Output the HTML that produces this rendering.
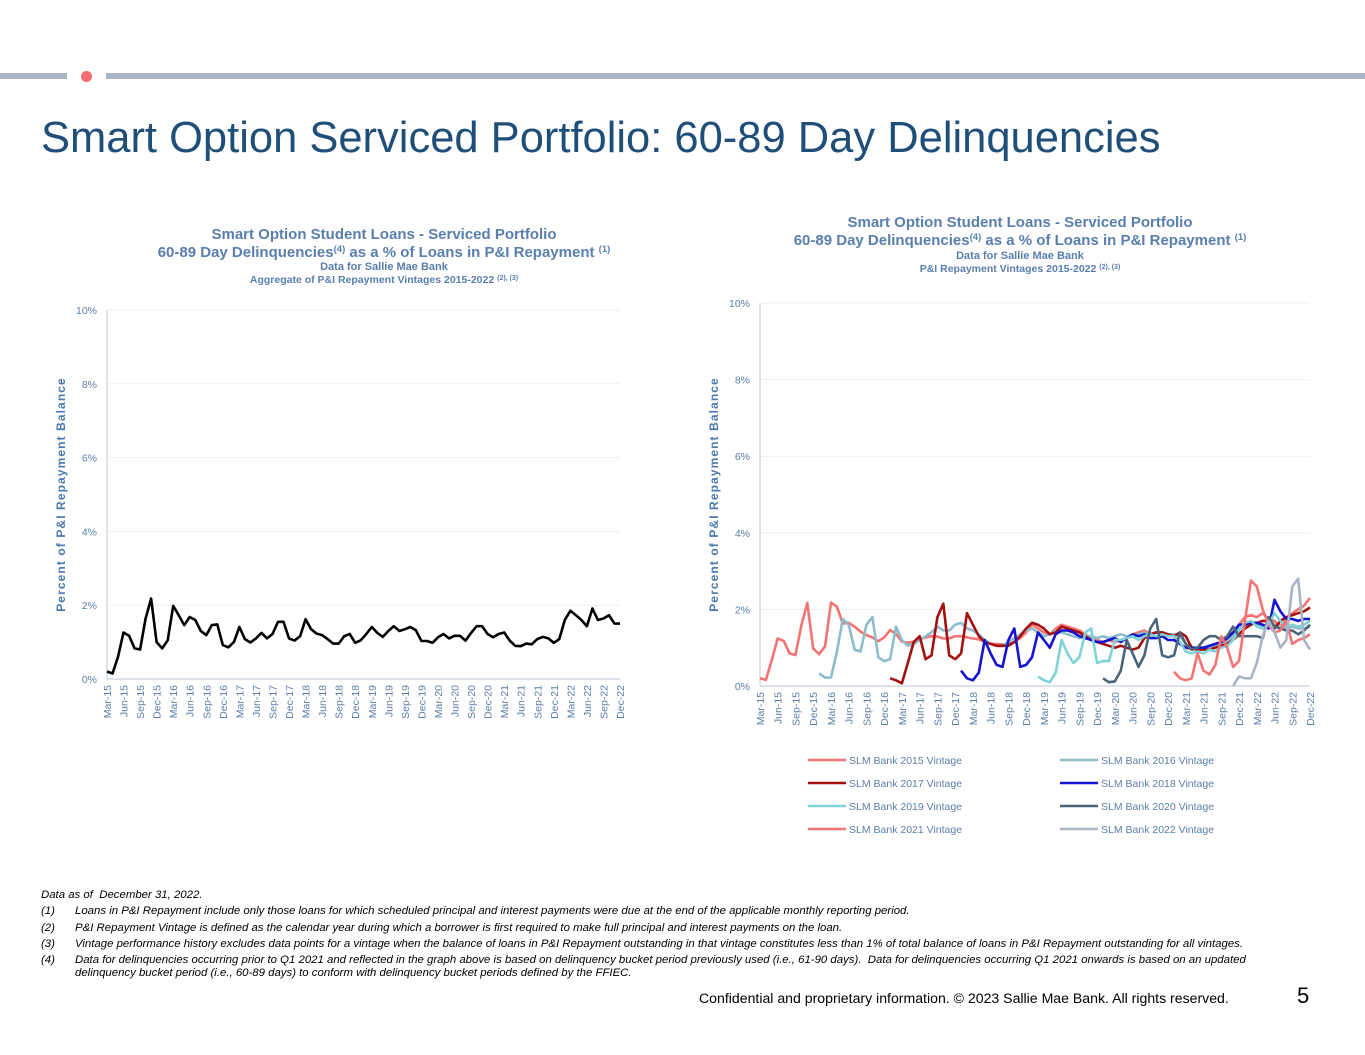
<!DOCTYPE html>
<html><head><meta charset="utf-8"><style>
body{margin:0;width:1365px;height:1055px;background:#fff;font-family:"Liberation Sans",sans-serif;position:relative;overflow:hidden}
.t{position:absolute;white-space:nowrap}
.fn{position:relative;padding-left:34px}
.fn span{position:absolute;left:0}
</style></head><body>
<div class="t" style="left:0;top:73px;width:67px;height:6px;background:#a9b4c6"></div>
<div class="t" style="left:81px;top:71px;width:11px;height:11px;border-radius:50%;background:#f26d6d"></div>
<div class="t" style="left:106px;top:73px;width:1259px;height:6px;background:#a9b4c6"></div>
<div class="t" style="left:41px;top:114px;font-size:43.5px;color:#1f4e79">Smart Option Serviced Portfolio: 60-89 Day Delinquencies</div>
<svg id="svg" width="1365" height="1055" style="position:absolute;left:0;top:0"></svg>
<div style="position:absolute;left:41px;top:887px;font-size:11.4px;font-style:italic;color:#000;line-height:16.3px">
<div>Data as of &nbsp;December 31, 2022.</div>
<div class="fn"><span>(1)</span>Loans in P&amp;I Repayment include only those loans for which scheduled principal and interest payments were due at the end of the applicable monthly reporting period.</div>
<div class="fn"><span>(2)</span>P&amp;I Repayment Vintage is defined as the calendar year during which a borrower is first required to make full principal and interest payments on the loan.</div>
<div class="fn"><span>(3)</span>Vintage performance history excludes data points for a vintage when the balance of loans in P&amp;I Repayment outstanding in that vintage constitutes less than 1% of total balance of loans in P&amp;I Repayment outstanding for all vintages.</div>
<div class="fn" style="line-height:13px;margin-top:2px"><span>(4)</span>Data for delinquencies occurring prior to Q1 2021 and reflected in the graph above is based on delinquency bucket period previously used (i.e., 61-90 days).&nbsp; Data for delinquencies occurring Q1 2021 onwards is based on an updated<br>delinquency bucket period (i.e., 60-89 days) to conform with delinquency bucket periods defined by the FFIEC.</div>
</div>
<div class="t" style="left:699px;top:990px;font-size:14.1px;color:#000">Confidential and proprietary information. © 2023 Sallie Mae Bank. All rights reserved.</div>
<div class="t" style="left:1297px;top:983px;font-size:22px;color:#000">5</div>
<script>
const months=[];const mn=["Jan","Feb","Mar","Apr","May","Jun","Jul","Aug","Sep","Oct","Nov","Dec"];
for(let y=15;y<=22;y++)for(let m=0;m<12;m++){if(y==15&&m<2)continue;months.push(mn[m]+"-"+y);}
const yTicks=[0,2,4,6,8,10];
const aggregate=[0.2,0.15,0.6,1.26,1.17,0.83,0.8,1.64,2.18,1.0,
0.83,1.05,1.98,1.73,1.46,1.68,1.6,1.3,1.19,1.46,1.48,0.92,
0.86,1.0,1.41,1.08,0.99,1.1,1.25,1.1,1.22,1.55,1.55,1.1,
1.04,1.16,1.62,1.35,1.23,1.19,1.08,0.96,0.96,1.16,1.22,0.98,
1.05,1.22,1.41,1.25,1.14,1.3,1.43,1.3,1.35,1.41,1.32,1.03,
1.03,0.98,1.13,1.22,1.1,1.17,1.17,1.04,1.25,1.43,1.43,1.22,
1.13,1.22,1.26,1.04,0.9,0.89,0.96,0.94,1.08,1.14,1.1,0.98,
1.08,1.6,1.85,1.73,1.6,1.43,1.91,1.6,1.64,1.73,1.5,1.5];
const v2015=[0.2,0.16,0.68,1.24,1.18,0.85,0.81,1.59,2.17,0.98,0.83,1.04,2.18,2.07,1.63,1.65,1.55,1.42,1.33,1.27,1.17,1.27,1.46,1.36,1.16,1.13,1.16,1.22,1.27,1.3,1.29,1.24,1.24,1.3,1.3,1.27,1.24,1.22,1.15,1.1,1.1,1.08,1.1,1.15,1.25,1.4,1.6,1.5,1.4,1.35,1.5,1.6,1.55,1.5,1.45,1.35,1.25,1.2,1.15,1.2,1.15,1.2,1.25,1.35,1.4,1.45,1.35,1.4,1.35,1.3,1.3,1.1,1.0,0.95,0.95,1.0,1.0,1.05,1.1,1.2,1.4,1.6,1.8,1.85,1.8,1.9,1.75,1.7,1.55,1.75,1.9,2.0,2.1,2.3];
const v2016=[null,null,null,null,null,null,null,null,null,null,0.33,0.22,0.22,0.9,1.75,1.6,0.95,0.9,1.6,1.8,0.75,0.65,0.7,1.55,1.2,1.05,1.1,1.2,1.3,1.4,1.55,1.45,1.45,1.6,1.65,1.5,1.45,1.35,1.2,1.1,1.05,1.05,1.15,1.25,1.35,1.45,1.5,1.4,1.3,1.35,1.45,1.4,1.35,1.3,1.25,1.3,1.3,1.25,1.3,1.25,1.3,1.35,1.3,1.3,1.35,1.4,1.35,1.4,1.4,1.35,1.35,1.3,1.1,1.0,0.95,1.0,1.0,1.05,1.1,1.15,1.3,1.5,1.6,1.7,1.6,1.55,1.65,1.6,1.55,1.5,1.55,1.5,1.5,1.55];
const v2017=[null,null,null,null,null,null,null,null,null,null,null,null,null,null,null,null,null,null,null,null,null,null,0.2,0.15,0.07,0.6,1.15,1.3,0.7,0.8,1.8,2.15,0.8,0.7,0.85,1.9,1.6,1.3,1.15,1.1,1.05,1.05,1.05,1.15,1.3,1.5,1.65,1.6,1.5,1.35,1.4,1.55,1.5,1.45,1.4,1.3,1.2,1.15,1.1,1.05,1.0,1.05,1.0,0.95,1.0,1.25,1.35,1.4,1.4,1.35,1.3,1.4,1.3,1.0,0.95,0.95,0.95,1.0,1.05,1.1,1.2,1.35,1.5,1.6,1.65,1.7,1.7,1.5,1.7,1.8,1.85,1.9,1.95,2.05];
const v2018=[null,null,null,null,null,null,null,null,null,null,null,null,null,null,null,null,null,null,null,null,null,null,null,null,null,null,null,null,null,null,null,null,null,null,0.4,0.2,0.15,0.35,1.2,0.85,0.55,0.5,1.2,1.5,0.5,0.55,0.75,1.4,1.2,1.0,1.35,1.45,1.45,1.4,1.3,1.25,1.2,1.15,1.15,1.2,1.25,1.15,1.25,1.35,1.3,1.35,1.25,1.25,1.3,1.2,1.2,1.1,1.0,1.0,1.0,1.0,1.05,1.1,1.15,1.25,1.4,1.6,1.6,1.65,1.65,1.6,1.5,2.25,1.95,1.75,1.75,1.7,1.75,1.75];
const v2019=[null,null,null,null,null,null,null,null,null,null,null,null,null,null,null,null,null,null,null,null,null,null,null,null,null,null,null,null,null,null,null,null,null,null,null,null,null,null,null,null,null,null,null,null,null,null,null,0.25,0.15,0.1,0.35,1.2,0.85,0.6,0.75,1.4,1.5,0.6,0.65,0.65,1.2,1.2,1.25,1.3,1.2,1.3,1.35,1.3,1.35,1.3,1.3,1.15,0.9,0.85,0.9,0.85,0.95,0.9,1.0,1.05,1.2,1.45,1.65,1.7,1.55,1.5,1.6,1.9,1.7,1.55,1.6,1.55,1.6,1.7];
const v2020=[null,null,null,null,null,null,null,null,null,null,null,null,null,null,null,null,null,null,null,null,null,null,null,null,null,null,null,null,null,null,null,null,null,null,null,null,null,null,null,null,null,null,null,null,null,null,null,null,null,null,null,null,null,null,null,null,null,null,0.2,0.1,0.12,0.4,1.2,0.85,0.5,0.8,1.5,1.75,0.8,0.75,0.8,1.4,1.1,0.95,1.0,1.2,1.3,1.3,1.2,1.3,1.55,1.3,1.3,1.3,1.3,1.25,1.8,1.55,1.5,1.45,1.45,1.35,1.45,1.6];
const v2021=[null,null,null,null,null,null,null,null,null,null,null,null,null,null,null,null,null,null,null,null,null,null,null,null,null,null,null,null,null,null,null,null,null,null,null,null,null,null,null,null,null,null,null,null,null,null,null,null,null,null,null,null,null,null,null,null,null,null,null,null,null,null,null,null,null,null,null,null,null,null,0.37,0.2,0.15,0.2,0.85,0.4,0.3,0.55,1.3,1.0,0.5,0.65,1.7,2.75,2.6,2.0,1.6,1.4,1.45,1.7,1.1,1.2,1.25,1.35];
const v2022=[null,null,null,null,null,null,null,null,null,null,null,null,null,null,null,null,null,null,null,null,null,null,null,null,null,null,null,null,null,null,null,null,null,null,null,null,null,null,null,null,null,null,null,null,null,null,null,null,null,null,null,null,null,null,null,null,null,null,null,null,null,null,null,null,null,null,null,null,null,null,null,null,null,null,null,null,null,null,null,null,0.0,0.25,0.2,0.2,0.6,1.3,1.7,1.4,1.0,1.2,2.6,2.8,1.2,0.95];
const seriesNames=["SLM Bank 2015 Vintage","SLM Bank 2016 Vintage","SLM Bank 2017 Vintage","SLM Bank 2018 Vintage","SLM Bank 2019 Vintage","SLM Bank 2020 Vintage","SLM Bank 2021 Vintage","SLM Bank 2022 Vintage"];
const seriesData=[v2015,v2016,v2017,v2018,v2019,v2020,v2021,v2022];
const colors=["#f47373","#8dbccc","#a50f0f","#1414d2","#7fd3d8","#4a6479","#f47373","#a9b4c6"];
const drawOrder=[0,1,2,3,4,5,6,7];
const svg=document.getElementById('svg');const NS="http://www.w3.org/2000/svg";
function mk(tag,at,txt){const e=document.createElementNS(NS,tag);for(const k in at)e.setAttribute(k,at[k]);if(txt!=null)e.textContent=txt;svg.appendChild(e);return e;}
function chart(o){
 const xS=i=>o.x0+(o.x1-o.x0)*i/(months.length-1);
 const yS=v=>o.y0-(o.y0-o.y1)*v/10;
 yTicks.forEach(t=>{
  if(t>0){const g=mk('line',{x1:o.x0,x2:o.x1,y1:yS(t),y2:yS(t),stroke:'#efefef','stroke-width':1});}
  const l=mk('text',{x:o.x0-10,y:yS(t)+4,'text-anchor':'end','font-size':10.5,fill:'#5b7ea8'},t+'%');
  
 });
 const ax=mk('line',{x1:o.x0,x2:o.x0,y1:o.y1,y2:o.y0,stroke:'#c8d1dc','stroke-width':1.2});
 const bx=mk('line',{x1:o.x0,x2:o.x1,y1:o.y0,y2:o.y0,stroke:'#c8d1dc','stroke-width':1.2});
 months.forEach((m,i)=>{if(i%3)return;const x=xS(i);
  const t=mk('text',{x:0,y:0,transform:`translate(${x+4},${o.y0+6}) rotate(-90)`,'text-anchor':'end','font-size':10.5,fill:'#5b7ea8'},m);
  });
 const yt=mk('text',{x:0,y:0,transform:`translate(${o.x0-42},${(o.y0+o.y1)/2}) rotate(-90)`,'text-anchor':'middle','font-size':12,'font-weight':'bold','letter-spacing':'1.1',fill:'#4a78b0'},'Percent of P&I Repayment  Balance');
 
 return {xS,yS};
}
function line(ax,data,color,w,name){let d='';let pen=false;
 data.forEach((v,i)=>{if(v==null){pen=false;return;}d+=(pen?'L':'M')+ax.xS(i).toFixed(1)+','+ax.yS(v).toFixed(1);pen=true;});
 const p=mk('path',{d,fill:'none',stroke:color,'stroke-width':w,'stroke-linejoin':'round'});
 }
function titles(cx,y,lines){lines.forEach(l=>{const t=mk('text',{x:cx,y:y+l[0],'text-anchor':'middle','font-size':l[1],'font-weight':'bold',fill:'#5a7fae'});t.innerHTML=l[2];});}
titles(384,0,[[239,15,'Smart Option Student Loans - Serviced Portfolio'],[257,15,'60-89 Day Delinquencies<tspan font-size="9.5" dy="-5">(4)</tspan><tspan dy="5"> as a % of Loans in P&amp;I Repayment </tspan><tspan font-size="9.5" dy="-5">(1)</tspan>'],[270,11,'Data for Sallie Mae Bank'],[283,10.5,'Aggregate of P&amp;I Repayment Vintages 2015-2022 <tspan font-size="7" dy="-3">(2), (3)</tspan>']]);
titles(1020,-7,[[234,15,'Smart Option Student Loans - Serviced Portfolio'],[252,15,'60-89  Day Delinquencies<tspan font-size="9.5" dy="-5">(4)</tspan><tspan dy="5"> as a % of Loans in P&amp;I Repayment </tspan><tspan font-size="9.5" dy="-5">(1)</tspan>'],[266,11,'Data for Sallie Mae Bank'],[279,10.5,'P&amp;I Repayment Vintages 2015-2022 <tspan font-size="7" dy="-3">(2), (3)</tspan>']]);
const A=chart({x0:107,x1:620,y0:679,y1:310});
line(A,aggregate,'#000',2.6,'aggregate-line');
const B=chart({x0:760,x1:1310,y0:686,y1:303});
drawOrder.forEach(k=>line(B,seriesData[k],colors[k],2.6,'vintage-'+(2015+k)+'-line'));
seriesNames.forEach((n,k)=>{const col=k%2,row=Math.floor(k/2);const x=col?1060:808,y=760+row*23;
 const l=mk('line',{x1:x,x2:x+38,y1:y,y2:y,stroke:colors[k],'stroke-width':2.6});
 const t=mk('text',{x:x+41,y:y+4,'font-size':10.5,fill:'#5b7ea8'},n);});
</script>
</body></html>
